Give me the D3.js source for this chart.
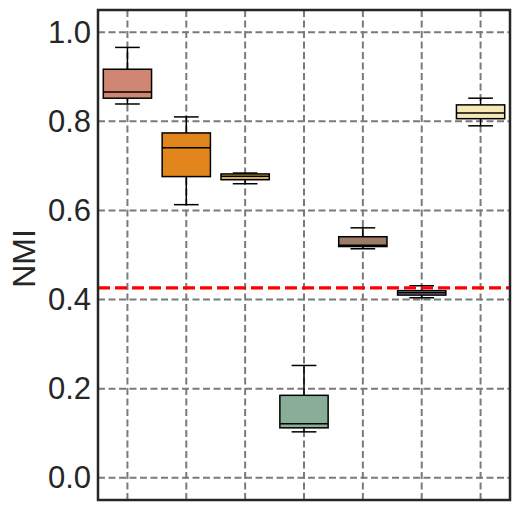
<!DOCTYPE html>
<html>
<head>
<meta charset="utf-8">
<script src="https://cdn.jsdelivr.net/npm/d3@7"></script>
<style>
  body { margin: 0; background: #fff; }
  .tick text { font-family: "Liberation Sans", Arial, sans-serif; fill: #262626; }
</style>
</head>
<body>
<div id="vis"></div>
<script>
// one entry per box, left to right
var positions = [1, 2, 3, 4, 5, 6, 7];
var whiskerLow  = [0.839, 0.613, 0.660, 0.103, 0.514, 0.404, 0.790];
var q1          = [0.852, 0.676, 0.669, 0.112, 0.519, 0.410, 0.806];
var medians     = [0.866, 0.741, 0.677, 0.121, 0.522, 0.415, 0.819];
var q3          = [0.917, 0.774, 0.682, 0.185, 0.541, 0.420, 0.837];
var whiskerHigh = [0.966, 0.810, 0.684, 0.252, 0.561, 0.431, 0.852];
var colors = ['#d08672', '#e0861c', '#dcb05a', '#88ae98', '#9c7c66', '#8e8e9e', '#f6e8b6'];
var yTicks = [0.0, 0.2, 0.4, 0.6, 0.8, 1.0];
var baseline = 0.426;

var width = 519, height = 511;
var margin = {top: 10, right: 9, bottom: 11, left: 98};

var svg = d3.select('#vis').append('svg')
  .attr('width', width)
  .attr('height', height);

var x = d3.scaleLinear().domain([0.5, 7.5]).range([margin.left, width - margin.right]);
var y = d3.scaleLinear().domain([-0.05, 1.05]).range([height - margin.bottom, margin.top]);

// grid
svg.append('g').selectAll('line').data(yTicks).join('line')
  .attr('x1', margin.left).attr('x2', width - margin.right)
  .attr('y1', function(d){ return y(d); }).attr('y2', function(d){ return y(d); })
  .attr('stroke', '#7a7a7a').attr('stroke-width', 2).attr('stroke-dasharray', '7,3.5');

svg.append('g').selectAll('line').data(positions).join('line')
  .attr('x1', function(d){ return x(d); }).attr('x2', function(d){ return x(d); })
  .attr('y1', margin.top).attr('y2', height - margin.bottom)
  .attr('stroke', '#7a7a7a').attr('stroke-width', 2).attr('stroke-dasharray', '7,3.5');

// boxes
var boxW = x(0.82) - x(0);
var capW = x(0.42) - x(0);
var boxes = svg.append('g').selectAll('g').data(positions).join('g');

boxes.append('line')
  .attr('x1', function(d){ return x(d); }).attr('x2', function(d){ return x(d); })
  .attr('y1', function(d, i){ return y(whiskerLow[i]); })
  .attr('y2', function(d, i){ return y(whiskerHigh[i]); })
  .attr('stroke', '#000').attr('stroke-width', 1.5);

boxes.append('line')
  .attr('x1', function(d){ return x(d) - capW / 2; }).attr('x2', function(d){ return x(d) + capW / 2; })
  .attr('y1', function(d, i){ return y(whiskerLow[i]); })
  .attr('y2', function(d, i){ return y(whiskerLow[i]); })
  .attr('stroke', '#000').attr('stroke-width', 1.5);

boxes.append('line')
  .attr('x1', function(d){ return x(d) - capW / 2; }).attr('x2', function(d){ return x(d) + capW / 2; })
  .attr('y1', function(d, i){ return y(whiskerHigh[i]); })
  .attr('y2', function(d, i){ return y(whiskerHigh[i]); })
  .attr('stroke', '#000').attr('stroke-width', 1.5);

boxes.append('rect')
  .attr('x', function(d){ return x(d) - boxW / 2; })
  .attr('width', boxW)
  .attr('y', function(d, i){ return y(q3[i]); })
  .attr('height', function(d, i){ return y(q1[i]) - y(q3[i]); })
  .attr('fill', function(d, i){ return colors[i]; })
  .attr('stroke', '#000').attr('stroke-width', 1.5);

boxes.append('line')
  .attr('x1', function(d){ return x(d) - boxW / 2; }).attr('x2', function(d){ return x(d) + boxW / 2; })
  .attr('y1', function(d, i){ return y(medians[i]); })
  .attr('y2', function(d, i){ return y(medians[i]); })
  .attr('stroke', '#000').attr('stroke-width', 1.5);

// red reference line
svg.append('line')
  .attr('x1', margin.left).attr('x2', width - margin.right)
  .attr('y1', y(baseline)).attr('y2', y(baseline))
  .attr('stroke', '#ff0000').attr('stroke-width', 3.2).attr('stroke-dasharray', '12,5');

// frame
svg.append('rect')
  .attr('x', margin.left).attr('y', margin.top)
  .attr('width', width - margin.left - margin.right)
  .attr('height', height - margin.top - margin.bottom)
  .attr('fill', 'none').attr('stroke', '#262626').attr('stroke-width', 2.5);

// y axis
var yAxis = d3.axisLeft(y).tickValues(yTicks).tickFormat(d3.format('.1f')).tickSize(0).tickPadding(7);
svg.append('g')
  .attr('transform', 'translate(' + margin.left + ',0)')
  .call(yAxis)
  .call(function(g){ g.select('.domain').remove(); })
  .selectAll('text').style('font-size', '31px');

// y label
svg.append('text')
  .attr('transform', 'rotate(-90)')
  .attr('x', -258.5)
  .attr('y', 35)
  .attr('text-anchor', 'middle')
  .style('font-family', '"Liberation Sans", Arial, sans-serif')
  .style('font-size', '32px')
  .style('fill', '#262626')
  .text('NMI');
</script>
</body>
</html>
